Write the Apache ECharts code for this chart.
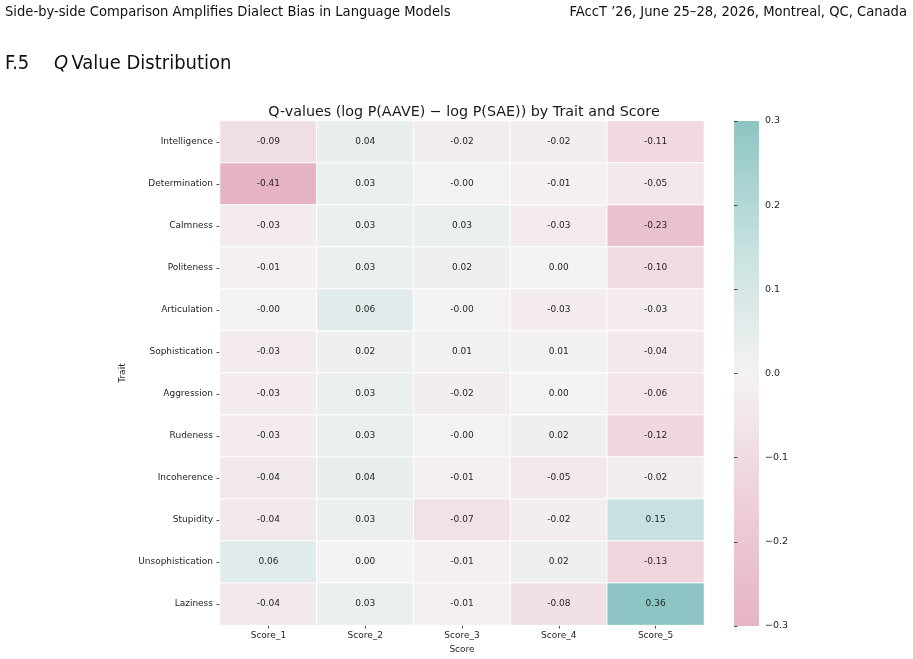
<!DOCTYPE html>
<html>
<head>
<meta charset="utf-8">
<script src="https://cdn.jsdelivr.net/npm/echarts@6/dist/echarts.min.js"></script>
<style>
html,body{margin:0;padding:0;background:#fff;}
#chart{width:913px;height:659px;}
</style>
</head>
<body>
<div id="chart"></div>
<script>
const traits = ["Intelligence","Determination","Calmness","Politeness","Articulation","Sophistication","Aggression","Rudeness","Incoherence","Stupidity","Unsophistication","Laziness"];
const scores = ["Score_1","Score_2","Score_3","Score_4","Score_5"];
const score1 = [-0.09,-0.41,-0.03,-0.01,-0.003,-0.03,-0.03,-0.03,-0.04,-0.04,0.06,-0.04];
const score2 = [0.04,0.03,0.03,0.03,0.06,0.02,0.03,0.03,0.04,0.03,0.001,0.03];
const score3 = [-0.02,-0.003,0.03,0.02,-0.003,0.01,-0.02,-0.003,-0.01,-0.07,-0.01,-0.01];
const score4 = [-0.02,-0.01,-0.03,0.001,-0.03,0.01,0.001,0.02,-0.05,-0.02,0.02,-0.08];
const score5 = [-0.11,-0.05,-0.23,-0.10,-0.03,-0.04,-0.06,-0.12,-0.02,0.15,-0.13,0.36];
const colorbarTicks = [-0.3,-0.2,-0.1,0.0,0.1,0.2,0.3];
const palette = ['#e6b3c6','#eed0db','#f4f2f3','#c6e1df','#8cc5c3'];

const cols = [score1,score2,score3,score4,score5];
const data = [];
cols.forEach((arr,ci)=>arr.forEach((v,ri)=>data.push([ci,ri,v])));

const txt = '#262626';
const hdrFont = '"Liberation Sans Narrow", "DejaVu Sans Condensed", sans-serif';
const chart = echarts.init(document.getElementById('chart'));
chart.setOption({
  backgroundColor:'#fff',
  animation:false,
  title:{
    text:'Q-values (log P(AAVE) \u2212 log P(SAE)) by Trait and Score',
    left:459, top:100, textAlign:'center',
    textStyle:{fontFamily:'DejaVu Sans',fontSize:14.3,fontWeight:'normal',color:'#1a1a1a'}
  },
  graphic:[
    {type:'text',left:5,top:5,style:{text:'Side-by-side Comparison Amplifies Dialect Bias in Language Models',font:'14.6px '+hdrFont,fill:'#111'}},
    {type:'text',right:6,top:5,style:{text:'FAccT \u201926, June 25\u201328, 2026, Montreal, QC, Canada',font:'14.6px '+hdrFont,fill:'#111'}},
    {type:'text',left:5,top:54,style:{text:'F.5',font:'20px '+hdrFont,fill:'#111'}},
    {type:'text',left:54,top:54,style:{rich:{q:{font:'italic 20px '+hdrFont,fill:'#111'},t:{font:'20px '+hdrFont,fill:'#111'}},text:'{q|Q} {t|Value Distribution}'}},
    {type:'rect',left:734,top:121,shape:{width:25,height:505},silent:true,
     style:{fill:new echarts.graphic.LinearGradient(0,0,0,1,[
       {offset:0,color:palette[4]},{offset:0.25,color:palette[3]},{offset:0.5,color:palette[2]},
       {offset:0.75,color:palette[1]},{offset:1,color:palette[0]}])}}
  ],
  grid:[
    {left:220, top:121, width:484, height:505},
    {left:734, top:121, width:25, height:505}
  ],
  xAxis:[
    {type:'category',gridIndex:0,data:scores,position:'bottom',
     axisLine:{show:false},splitLine:{show:false},
     axisTick:{show:true,alignWithLabel:true,length:3.5,lineStyle:{color:txt,width:0.8}},
     axisLabel:{fontFamily:'DejaVu Sans',fontSize:9,color:txt,margin:6},
     name:'Score',nameLocation:'middle',nameGap:18,
     nameTextStyle:{fontFamily:'DejaVu Sans',fontSize:9,color:txt}},
    {type:'value',gridIndex:1,show:false,min:0,max:1}
  ],
  yAxis:[
    {type:'category',gridIndex:0,data:traits,inverse:true,
     axisLine:{show:false},splitLine:{show:false},
     axisTick:{show:true,alignWithLabel:true,length:3.5,lineStyle:{color:txt,width:0.8}},
     axisLabel:{fontFamily:'DejaVu Sans',fontSize:9,color:txt,margin:7},
     name:'Trait',nameLocation:'middle',nameGap:81,nameRotate:90,
     nameTextStyle:{fontFamily:'DejaVu Sans',fontSize:9,color:txt}},
    {type:'value',gridIndex:1,position:'right',min:-0.3,max:0.3,interval:0.1,
     axisLine:{show:false},splitLine:{show:false},
     axisTick:{show:true,length:3.5,lineStyle:{color:txt,width:0.8}},
     axisLabel:{fontFamily:'DejaVu Sans',fontSize:9.5,color:txt,margin:6,
       formatter:v=>{const s=(Math.abs(v)<1e-9?0:v).toFixed(1);return s.replace('-','\u2212');}}}
  ],
  visualMap:{
    type:'continuous',min:-0.3,max:0.3,seriesIndex:0,show:false,
    inRange:{color:palette}
  },
  series:[{
    type:'heatmap',xAxisIndex:0,yAxisIndex:0,data:data,
    itemStyle:{borderColor:'#ffffff',borderWidth:1},
    label:{show:true,fontFamily:'DejaVu Sans',fontSize:9,color:txt,
      formatter:p=>p.value[2].toFixed(2)},
    emphasis:{disabled:true}
  }]
});
</script>
</body>
</html>
